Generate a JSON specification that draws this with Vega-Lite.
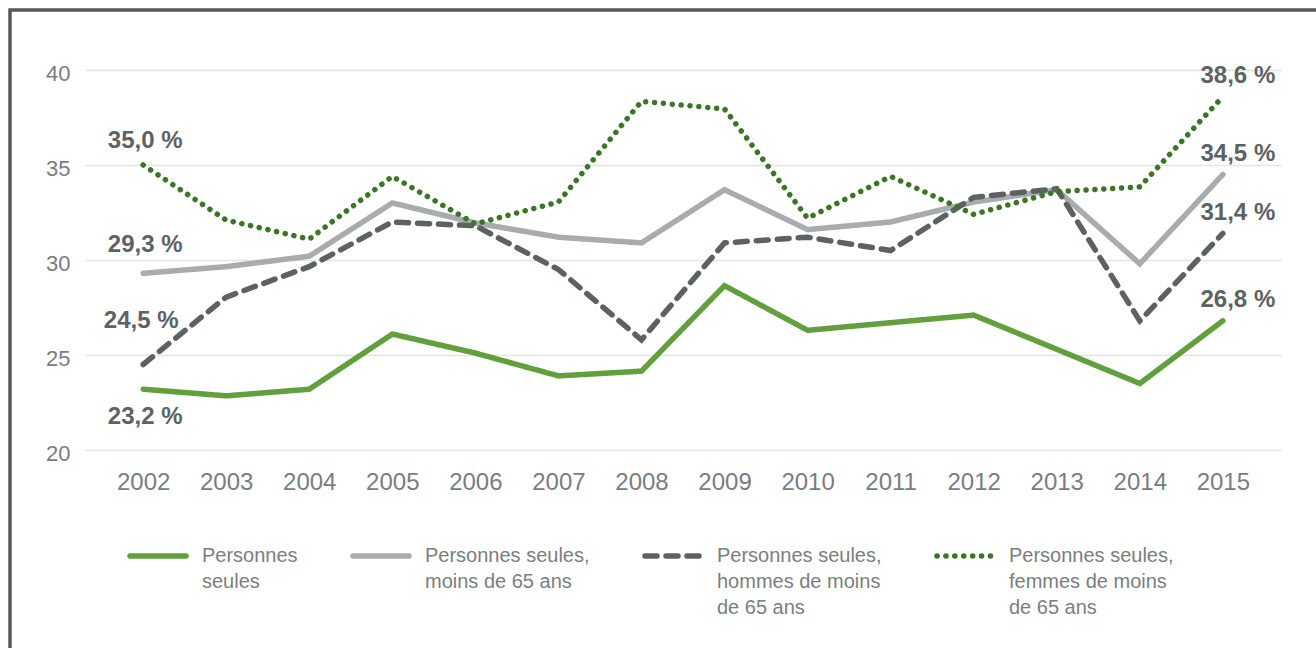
{
  "$schema": "https://vega.github.io/schema/vega-lite/v6.json",
  "width": 1306,
  "height": 638,
  "autosize": "none",
  "padding": {"left": 10, "top": 10, "right": 0, "bottom": 0},
  "background": "white",
  "view": {"stroke": "#585657", "strokeWidth": 3.5, "strokeDash": [1306, 1944, 700]},
  "config": {
    "font": "Liberation Sans",
    "legend": {
      "orient": "none",
      "legendX": 117,
      "legendY": 515,
      "direction": "horizontal",
      "title": null,
      "labelFont": "Liberation Sans",
      "labelFontSize": 20,
      "labelColor": "#7b7e80",
      "labelLimit": 400,
      "labelOffset": 13,
      "symbolSize": 3136,
      "symbolType": "stroke",
      "columnPadding": 44,
      "padding": 0
    }
  },
  "data": {
    "values": [
      {"year": 2002, "series": "Personnes seules, moins de 65 ans", "value": 29.3},
      {"year": 2003, "series": "Personnes seules, moins de 65 ans", "value": 29.65},
      {"year": 2004, "series": "Personnes seules, moins de 65 ans", "value": 30.2},
      {"year": 2005, "series": "Personnes seules, moins de 65 ans", "value": 33.0},
      {"year": 2006, "series": "Personnes seules, moins de 65 ans", "value": 31.95},
      {"year": 2007, "series": "Personnes seules, moins de 65 ans", "value": 31.2},
      {"year": 2008, "series": "Personnes seules, moins de 65 ans", "value": 30.9},
      {"year": 2009, "series": "Personnes seules, moins de 65 ans", "value": 33.7},
      {"year": 2010, "series": "Personnes seules, moins de 65 ans", "value": 31.6},
      {"year": 2011, "series": "Personnes seules, moins de 65 ans", "value": 32.0},
      {"year": 2012, "series": "Personnes seules, moins de 65 ans", "value": 33.05},
      {"year": 2013, "series": "Personnes seules, moins de 65 ans", "value": 33.7},
      {"year": 2014, "series": "Personnes seules, moins de 65 ans", "value": 29.8},
      {"year": 2015, "series": "Personnes seules, moins de 65 ans", "value": 34.5},
      {"year": 2002, "series": "Personnes seules", "value": 23.2},
      {"year": 2003, "series": "Personnes seules", "value": 22.85},
      {"year": 2004, "series": "Personnes seules", "value": 23.2},
      {"year": 2005, "series": "Personnes seules", "value": 26.1},
      {"year": 2006, "series": "Personnes seules", "value": 25.1},
      {"year": 2007, "series": "Personnes seules", "value": 23.9},
      {"year": 2008, "series": "Personnes seules", "value": 24.15},
      {"year": 2009, "series": "Personnes seules", "value": 28.65},
      {"year": 2010, "series": "Personnes seules", "value": 26.3},
      {"year": 2011, "series": "Personnes seules", "value": 26.7},
      {"year": 2012, "series": "Personnes seules", "value": 27.1},
      {"year": 2013, "series": "Personnes seules", "value": 25.3},
      {"year": 2014, "series": "Personnes seules", "value": 23.5},
      {"year": 2015, "series": "Personnes seules", "value": 26.8},
      {"year": 2002, "series": "Personnes seules, hommes de moins de 65 ans", "value": 24.5},
      {"year": 2003, "series": "Personnes seules, hommes de moins de 65 ans", "value": 28.05},
      {"year": 2004, "series": "Personnes seules, hommes de moins de 65 ans", "value": 29.65},
      {"year": 2005, "series": "Personnes seules, hommes de moins de 65 ans", "value": 32.0},
      {"year": 2006, "series": "Personnes seules, hommes de moins de 65 ans", "value": 31.8},
      {"year": 2007, "series": "Personnes seules, hommes de moins de 65 ans", "value": 29.5},
      {"year": 2008, "series": "Personnes seules, hommes de moins de 65 ans", "value": 25.8},
      {"year": 2009, "series": "Personnes seules, hommes de moins de 65 ans", "value": 30.9},
      {"year": 2010, "series": "Personnes seules, hommes de moins de 65 ans", "value": 31.2},
      {"year": 2011, "series": "Personnes seules, hommes de moins de 65 ans", "value": 30.5},
      {"year": 2012, "series": "Personnes seules, hommes de moins de 65 ans", "value": 33.3},
      {"year": 2013, "series": "Personnes seules, hommes de moins de 65 ans", "value": 33.75},
      {"year": 2014, "series": "Personnes seules, hommes de moins de 65 ans", "value": 26.8},
      {"year": 2015, "series": "Personnes seules, hommes de moins de 65 ans", "value": 31.4},
      {"year": 2002, "series": "Personnes seules, femmes de moins de 65 ans", "value": 35.0},
      {"year": 2003, "series": "Personnes seules, femmes de moins de 65 ans", "value": 32.1},
      {"year": 2004, "series": "Personnes seules, femmes de moins de 65 ans", "value": 31.1},
      {"year": 2005, "series": "Personnes seules, femmes de moins de 65 ans", "value": 34.4},
      {"year": 2006, "series": "Personnes seules, femmes de moins de 65 ans", "value": 31.9},
      {"year": 2007, "series": "Personnes seules, femmes de moins de 65 ans", "value": 33.05},
      {"year": 2008, "series": "Personnes seules, femmes de moins de 65 ans", "value": 38.35},
      {"year": 2009, "series": "Personnes seules, femmes de moins de 65 ans", "value": 37.95},
      {"year": 2010, "series": "Personnes seules, femmes de moins de 65 ans", "value": 32.2},
      {"year": 2011, "series": "Personnes seules, femmes de moins de 65 ans", "value": 34.4},
      {"year": 2012, "series": "Personnes seules, femmes de moins de 65 ans", "value": 32.4},
      {"year": 2013, "series": "Personnes seules, femmes de moins de 65 ans", "value": 33.6},
      {"year": 2014, "series": "Personnes seules, femmes de moins de 65 ans", "value": 33.85},
      {"year": 2015, "series": "Personnes seules, femmes de moins de 65 ans", "value": 38.6}
    ]
  },
  "encoding": {
    "x": {
      "field": "year",
      "type": "ordinal",
      "scale": {"range": [75, 1271], "padding": 0.7},
      "axis": {
        "title": null,
        "domain": false,
        "ticks": false,
        "tickSize": 0,
        "grid": false,
        "labelAngle": 0,
        "labelFont": "Liberation Sans",
        "labelFontSize": 24,
        "labelColor": "#7a7d7f",
        "offset": -198,
        "labelPadding": 20
      }
    },
    "y": {
      "field": "value",
      "type": "quantitative",
      "scale": {"domain": [20, 40], "range": [440, 60], "zero": false, "nice": false},
      "axis": {
        "title": null,
        "domain": false,
        "ticks": false,
        "tickSize": 0,
        "values": [20, 25, 30, 35, 40],
        "grid": true,
        "gridColor": "#e4e4e4",
        "gridWidth": 1.5,
        "labelFont": "Liberation Sans",
        "labelFontSize": 22,
        "labelColor": "#7a7d7f",
        "offset": -66,
        "labelPadding": 6,
        "labelOffset": 3
      }
    }
  },
  "layer": [
    {
      "mark": {"type": "line", "strokeCap": "round"},
      "encoding": {
        "color": {
          "field": "series",
          "type": "nominal",
          "scale": {
            "domain": ["Personnes seules", "Personnes seules, moins de 65 ans", "Personnes seules, hommes de moins de 65 ans", "Personnes seules, femmes de moins de 65 ans"],
            "range": ["#62a03e", "#a9acae", "#5c6163", "#3d7526"]
          },
          "legend": {
            "labelExpr": "datum.label == 'Personnes seules' ? ['Personnes', 'seules', ''] : datum.label == 'Personnes seules, moins de 65 ans' ? ['Personnes seules,', 'moins de 65 ans', ''] : datum.label == 'Personnes seules, hommes de moins de 65 ans' ? ['Personnes seules,', 'hommes de moins', 'de 65 ans'] : ['Personnes seules,', 'femmes de moins', 'de 65 ans']",
            "encode": {
              "symbols": {"update": {"strokeCap": {"value": "round"}}},
              "labels": {"update": {"lineHeight": {"value": 26}}}
            }
          }
        },
        "strokeDash": {
          "field": "series",
          "type": "nominal",
          "scale": {
            "domain": ["Personnes seules", "Personnes seules, moins de 65 ans", "Personnes seules, hommes de moins de 65 ans", "Personnes seules, femmes de moins de 65 ans"],
            "range": [[1, 0], [1, 0], [12, 9], [0.1, 8.8]]
          }
        },
        "strokeWidth": {
          "field": "series",
          "type": "nominal",
          "scale": {
            "domain": ["Personnes seules", "Personnes seules, moins de 65 ans", "Personnes seules, hommes de moins de 65 ans", "Personnes seules, femmes de moins de 65 ans"],
            "range": [5.5, 5.5, 4.5, 4]
          }
        }
      }
    },
    {
      "transform": [
        {"filter": "datum.year == 2002 && datum.series == 'Personnes seules, femmes de moins de 65 ans'"},
        {"calculate": "replace(format(datum.value, '.1f'), '.', ',') + ' %'", "as": "lab"}
      ],
      "mark": {"type": "text", "font": "Liberation Sans", "fontWeight": "bold", "fontSize": 24, "color": "#5d6264", "dx": 2, "dy": -24.5},
      "encoding": {"text": {"field": "lab"}}
    },
    {
      "transform": [
        {"filter": "datum.year == 2002 && datum.series == 'Personnes seules, moins de 65 ans'"},
        {"calculate": "replace(format(datum.value, '.1f'), '.', ',') + ' %'", "as": "lab"}
      ],
      "mark": {"type": "text", "font": "Liberation Sans", "fontWeight": "bold", "fontSize": 24, "color": "#5d6264", "dx": 2, "dy": -28.5},
      "encoding": {"text": {"field": "lab"}}
    },
    {
      "transform": [
        {"filter": "datum.year == 2002 && datum.series == 'Personnes seules, hommes de moins de 65 ans'"},
        {"calculate": "replace(format(datum.value, '.1f'), '.', ',') + ' %'", "as": "lab"}
      ],
      "mark": {"type": "text", "font": "Liberation Sans", "fontWeight": "bold", "fontSize": 24, "color": "#5d6264", "dx": -2, "dy": -43.5},
      "encoding": {"text": {"field": "lab"}}
    },
    {
      "transform": [
        {"filter": "datum.year == 2002 && datum.series == 'Personnes seules'"},
        {"calculate": "replace(format(datum.value, '.1f'), '.', ',') + ' %'", "as": "lab"}
      ],
      "mark": {"type": "text", "font": "Liberation Sans", "fontWeight": "bold", "fontSize": 24, "color": "#5d6264", "dx": 2, "dy": 27.5},
      "encoding": {"text": {"field": "lab"}}
    },
    {
      "transform": [
        {"filter": "datum.year == 2015"},
        {"calculate": "replace(format(datum.value, '.1f'), '.', ',') + ' %'", "as": "lab"}
      ],
      "mark": {"type": "text", "font": "Liberation Sans", "fontWeight": "bold", "fontSize": 24, "color": "#5d6264", "dx": 15, "dy": -20.5},
      "encoding": {"text": {"field": "lab"}}
    }
  ]
}
